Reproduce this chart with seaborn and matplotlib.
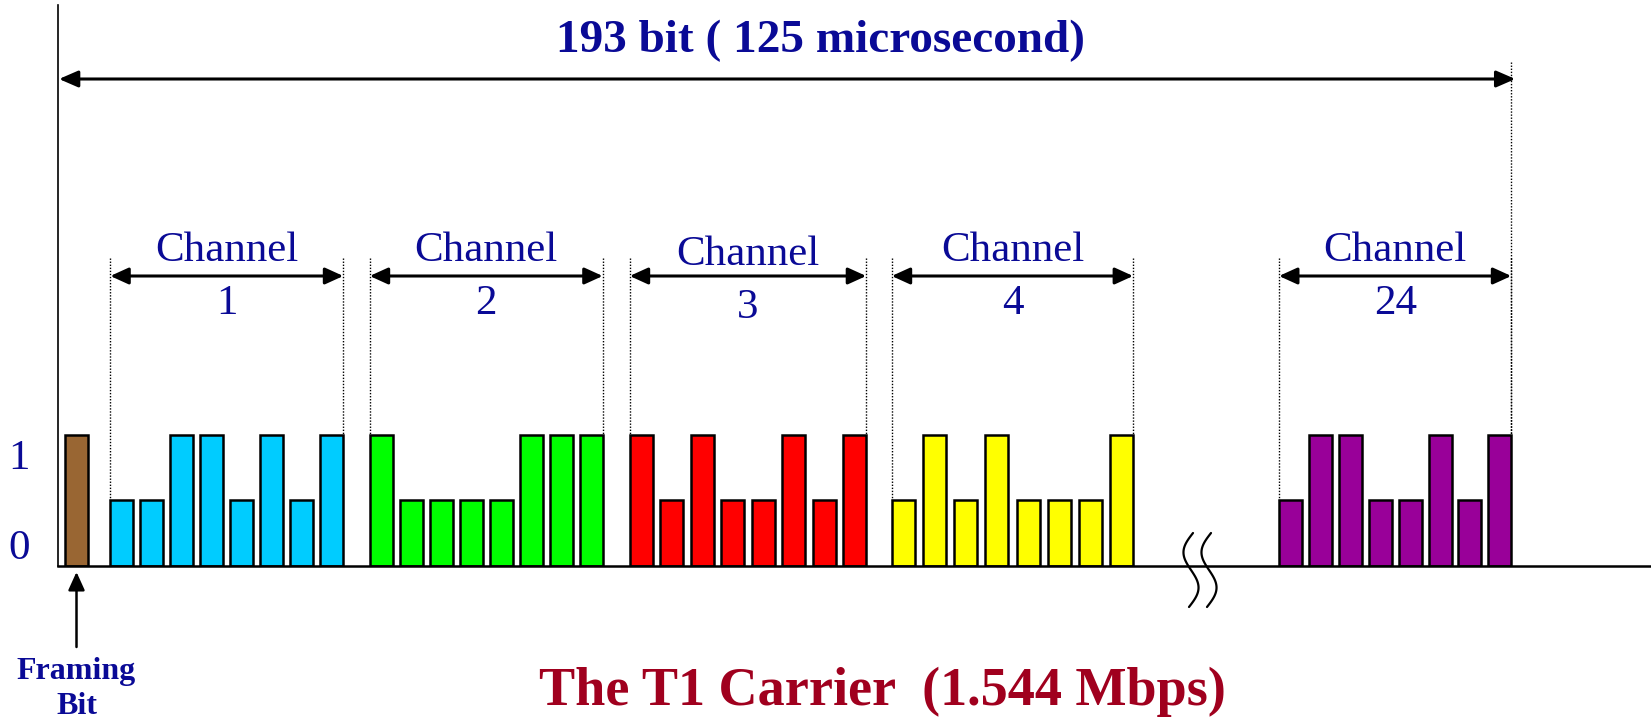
import numpy as np
import pandas as pd
import matplotlib
matplotlib.use("Agg")
import matplotlib.pyplot as plt
import seaborn as sns

# ---------------- data ----------------
channels = ["Framing", "Channel 1", "Channel 2", "Channel 3", "Channel 4", "Channel 24"]
channel_numbers = ["1", "2", "3", "4", "24"]
framing_bits = [1]
ch1_bits = [0, 0, 1, 1, 0, 1, 0, 1]
ch2_bits = [1, 0, 0, 0, 0, 1, 1, 1]
ch3_bits = [1, 0, 1, 0, 0, 1, 0, 1]
ch4_bits = [0, 1, 0, 1, 0, 0, 0, 1]
ch24_bits = [0, 1, 1, 0, 0, 1, 0, 1]
level_labels = ["1", "0"]
title_top = "193 bit ( 125 microsecond)"
title_bottom = "The T1 Carrier  (1.544 Mbps)"
framing_label = "Framing\nBit"
channel_word = "Channel"

# ---------------- style / layout ----------------
colors = ["#996633", "#00CCFF", "#00FF00", "#FF0000", "#FFFF00", "#990099"]
NAVY = "#0A0A96"
DARKRED = "#A0001E"
W, H = 1651, 718
BASE = 565.7      # baseline pixel row
UNIT = 131.0      # pixels per data unit
AX_LEFT, AX_TOP = 58, 5
group_left = [65, 110.3, 369.7, 629.7, 891.7, 1279]
group_pitch = [30.0, 30.0, 30.0, 30.5, 31.2, 29.9]
bar_w = 23.0
label_dy = [0, 0, 4, 0, 0]

sns.set_style("white")
plt.rcParams["font.family"] = ["Liberation Serif", "DejaVu Serif"]


def py(p):
    """pixel row -> data y"""
    return (BASE - p) / UNIT


all_bits = [framing_bits, ch1_bits, ch2_bits, ch3_bits, ch4_bits, ch24_bits]
rows = []
for name, bits, left, pitch in zip(channels, all_bits, group_left, group_pitch):
    for i, b in enumerate(bits):
        rows.append(dict(channel=name, x=left + bar_w / 2 + i * pitch,
                         level=0.5 + 0.5 * b))
df = pd.DataFrame(rows)
min_pitch = np.min(np.diff(np.sort(df["x"].unique())))

fig = plt.figure(figsize=(W / 100, H / 100), dpi=100)
ax = fig.add_axes([AX_LEFT / W, (H - BASE) / H, (W - AX_LEFT) / W, (BASE - AX_TOP) / H])

sns.barplot(data=df, x="x", y="level", hue="channel", hue_order=channels,
            palette=colors, native_scale=True, dodge=False,
            width=bar_w / min_pitch, edgecolor="black", linewidth=1.8,
            errorbar=None, legend=False, saturation=1, ax=ax)

ax.set_xlim(AX_LEFT, W)
ax.set_ylim(0, (BASE - AX_TOP) / UNIT)
ax.set_xlabel("")
ax.set_ylabel("")
ax.set_xticks([])
ax.set_yticks([py(454), py(544)], labels=level_labels)
ax.tick_params(axis="y", length=0, pad=20, labelsize=31, labelcolor=NAVY)
for s in ["top", "right"]:
    ax.spines[s].set_visible(False)
ax.spines["left"].set_linewidth(1.2)
ax.spines["bottom"].set_linewidth(1.8)
ax.spines["left"].set_color("black")
ax.spines["bottom"].set_color("black")

dot = dict(color="black", lw=1.0, ls=(0, (1, 1.2)), clip_on=False)
arrow2 = dict(arrowstyle="<|-|>,head_length=1.1,head_width=0.5", color="black",
              lw=2.2, shrinkA=0, shrinkB=0)

# channel spans
for k in range(1, len(channels)):
    bits = all_bits[k]
    left = group_left[k]
    right = group_left[k] + (len(bits) - 1) * group_pitch[k] + bar_w
    ax.plot([left, left], [py(258), 0.5 + 0.5 * bits[0]], **dot)
    ax.plot([right, right], [py(258), 0.5 + 0.5 * bits[-1]], **dot)
    ax.annotate("", xy=(right, py(276)), xytext=(left, py(276)),
                arrowprops=arrow2, annotation_clip=False)
    cx = (left + right) / 2
    dy = label_dy[k - 1]
    ax.text(cx, py(261 + dy), channel_word, ha="center", va="baseline",
            fontsize=31, color=NAVY, clip_on=False)
    ax.text(cx, py(314 + dy), channel_numbers[k - 1], ha="center", va="baseline",
            fontsize=31, color=NAVY, clip_on=False)

# overall frame span
frame_right = group_left[-1] + (len(ch24_bits) - 1) * group_pitch[-1] + bar_w
ax.plot([frame_right, frame_right], [py(62), 0.5 + 0.5 * ch24_bits[-1]], **dot)
ax.annotate("", xy=(frame_right + 4, py(79)), xytext=(AX_LEFT + 1, py(79)),
            arrowprops=dict(arrowstyle="<|-|>,head_length=1.15,head_width=0.5",
                            color="black", lw=2.2, shrinkA=0, shrinkB=0),
            annotation_clip=False)
ax.text(820, py(52), title_top, ha="center", va="baseline", fontsize=34,
        fontweight="bold", color=NAVY, clip_on=False)

# framing bit pointer
fx = group_left[0] + bar_w / 2
ax.annotate("", xy=(fx, py(572)), xytext=(fx, py(647)),
            arrowprops=dict(arrowstyle="-|>,head_length=1.1,head_width=0.5",
                            color="black", lw=1.8, shrinkA=0, shrinkB=0),
            annotation_clip=False)
ax.text(fx, py(679), framing_label.split("\n")[0], ha="center", va="baseline",
        fontsize=23, fontweight="bold", color=NAVY, clip_on=False)
ax.text(fx, py(714), framing_label.split("\n")[1], ha="center", va="baseline",
        fontsize=23, fontweight="bold", color=NAVY, clip_on=False)

# break marks
t = np.linspace(0, 1, 120)
yy = py(533 + 74 * t)
for cxb in [1191, 1209]:
    ax.plot(cxb - 8.5 * np.sin(2 * np.pi * t) + 4 * (0.5 - t), yy,
            color="black", lw=1.6, clip_on=False)

# bottom title
ax.text(882, py(705), title_bottom, ha="center", va="baseline", fontsize=39,
        fontweight="bold", color=DARKRED, clip_on=False)

fig.savefig("out.png", dpi=100)
